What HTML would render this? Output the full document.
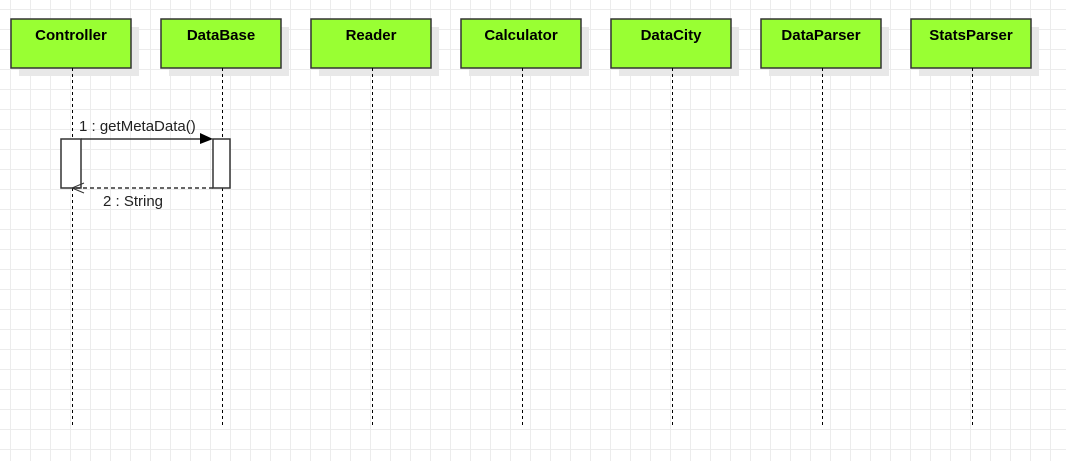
<!DOCTYPE html>
<html><head><style>
body{margin:0;width:1066px;height:461px;overflow:hidden;background:#fff;
background-image:linear-gradient(#ececec 1px,transparent 1px),linear-gradient(90deg,#ececec 1px,transparent 1px);
background-size:20px 20px;background-position:10px 9px;font-family:"Liberation Sans",sans-serif;}
</style></head><body>
<svg width="1066" height="461" style="position:absolute;left:0;top:0" font-family="Liberation Sans, sans-serif">
<g fill="#e8e8e8">
<rect x="19" y="27" width="120" height="49"/><rect x="169" y="27" width="120" height="49"/><rect x="319" y="27" width="120" height="49"/><rect x="469" y="27" width="120" height="49"/><rect x="619" y="27" width="120" height="49"/><rect x="769" y="27" width="120" height="49"/><rect x="919" y="27" width="120" height="49"/>
</g>
<g fill="#99ff33" stroke="#333" stroke-width="1.5">
<rect x="11" y="19" width="120" height="49"/><rect x="161" y="19" width="120" height="49"/><rect x="311" y="19" width="120" height="49"/><rect x="461" y="19" width="120" height="49"/><rect x="611" y="19" width="120" height="49"/><rect x="761" y="19" width="120" height="49"/><rect x="911" y="19" width="120" height="49"/>
</g>
<g font-size="15" font-weight="bold" text-anchor="middle" fill="#000">
<text x="71" y="40">Controller</text><text x="221" y="40">DataBase</text><text x="371" y="40">Reader</text><text x="521" y="40">Calculator</text><text x="671" y="40">DataCity</text><text x="821" y="40">DataParser</text><text x="971" y="40">StatsParser</text>
</g>
<g stroke="#000" stroke-dasharray="3,3">
<line x1="72.5" y1="68" x2="72.5" y2="425"/><line x1="222.5" y1="68" x2="222.5" y2="425"/><line x1="372.5" y1="68" x2="372.5" y2="425"/><line x1="522.5" y1="68" x2="522.5" y2="425"/><line x1="672.5" y1="68" x2="672.5" y2="425"/><line x1="822.5" y1="68" x2="822.5" y2="425"/><line x1="972.5" y1="68" x2="972.5" y2="425"/>
</g>
<rect x="61" y="139" width="20" height="49" fill="#fff" stroke="#333" stroke-width="1.5"/>
<rect x="213" y="139" width="17" height="49" fill="#fff" stroke="#333" stroke-width="1.5"/>
<line x1="81" y1="139" x2="202" y2="139" stroke="#333" stroke-width="1.5"/>
<polygon points="200,133 213,139 200,144" fill="#000"/>
<text x="79" y="131" font-size="15" fill="#222">1 : getMetaData()</text>
<line x1="213" y1="188" x2="73" y2="188" stroke="#333" stroke-width="1.5" stroke-dasharray="4,3"/>
<polyline points="84,183 72,188 84,193" fill="none" stroke="#333" stroke-width="1"/>
<text x="103" y="206" font-size="15" fill="#222">2 : String</text>
</svg>
</body></html>
